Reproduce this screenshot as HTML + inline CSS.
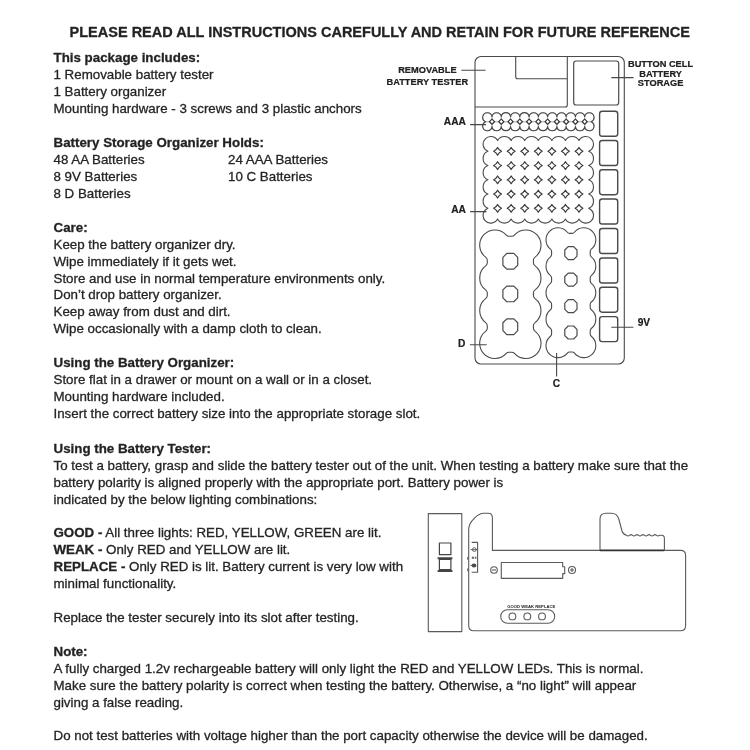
<!DOCTYPE html>
<html><head><meta charset="utf-8"><title>Battery Organizer Instructions</title>
<style>
html,body{margin:0;padding:0;background:#fff;}
body{width:750px;height:750px;position:relative;overflow:hidden;font-family:"Liberation Sans",Arial,sans-serif;color:#222;-webkit-text-stroke:0.3px #2a2a2a;}
.t{position:absolute;white-space:nowrap;font-size:13.33px;line-height:16px;height:16px;}
.b{font-weight:bold;}
.h{position:absolute;white-space:nowrap;font-weight:bold;font-size:14.5px;line-height:18px;left:69.6px;top:22.5px;}
svg{position:absolute;left:0;top:0;}
svg text{font-family:"Liberation Sans",Arial,sans-serif;font-weight:bold;fill:#222;}
.w{position:absolute;left:0;top:0;width:750px;height:750px;filter:blur(0.45px);}
</style></head><body><div class="w">
<div class="h">PLEASE READ ALL INSTRUCTIONS CAREFULLY AND RETAIN FOR FUTURE REFERENCE</div>

<div class="t b" style="left:53.5px;top:50.04px">This package includes:</div>
<div class="t" style="left:53.5px;top:67.00px">1 Removable battery tester</div>
<div class="t" style="left:53.5px;top:83.96px">1 Battery organizer</div>
<div class="t" style="left:53.5px;top:100.92px">Mounting hardware - 3 screws and 3 plastic anchors</div>
<div class="t b" style="left:53.5px;top:134.84px">Battery Storage Organizer Holds:</div>
<div class="t" style="left:53.5px;top:151.80px">48 AA Batteries</div>
<div class="t" style="left:228px;top:151.80px">24 AAA Batteries</div>
<div class="t" style="left:53.5px;top:168.76px">8 9V Batteries</div>
<div class="t" style="left:228px;top:168.76px">10 C Batteries</div>
<div class="t" style="left:53.5px;top:185.72px">8 D Batteries</div>
<div class="t b" style="left:53.5px;top:219.64px">Care:</div>
<div class="t" style="left:53.5px;top:236.60px">Keep the battery organizer dry.</div>
<div class="t" style="left:53.5px;top:253.56px">Wipe immediately if it gets wet.</div>
<div class="t" style="left:53.5px;top:270.52px">Store and use in normal temperature environments only.</div>
<div class="t" style="left:53.5px;top:287.48px">Don’t drop battery organizer.</div>
<div class="t" style="left:53.5px;top:304.44px">Keep away from dust and dirt.</div>
<div class="t" style="left:53.5px;top:321.40px">Wipe occasionally with a damp cloth to clean.</div>
<div class="t b" style="left:53.5px;top:355.32px">Using the Battery Organizer:</div>
<div class="t" style="left:53.5px;top:372.28px">Store flat in a drawer or mount on a wall or in a closet.</div>
<div class="t" style="left:53.5px;top:389.24px">Mounting hardware included.</div>
<div class="t" style="left:53.5px;top:406.20px">Insert the correct battery size into the appropriate storage slot.</div>
<div class="t b" style="left:53.5px;top:440.92px">Using the Battery Tester:</div>
<div class="t" style="left:53.5px;top:457.88px">To test a battery, grasp and slide the battery tester out of the unit. When testing a battery make sure that the</div>
<div class="t" style="left:53.5px;top:474.84px">battery polarity is aligned properly with the appropriate port. Battery power is</div>
<div class="t" style="left:53.5px;top:491.80px">indicated by the below lighting combinations:</div>
<div class="t" style="left:53.5px;top:524.92px"><b>GOOD -</b> All three lights: RED, YELLOW, GREEN are lit.</div>
<div class="t" style="left:53.5px;top:541.88px"><b>WEAK -</b> Only RED and YELLOW are lit.</div>
<div class="t" style="left:53.5px;top:558.84px"><b>REPLACE -</b> Only RED is lit. Battery current is very low with</div>
<div class="t" style="left:53.5px;top:575.80px">minimal functionality.</div>
<div class="t" style="left:53.5px;top:609.72px">Replace the tester securely into its slot after testing.</div>
<div class="t b" style="left:53.5px;top:643.64px">Note:</div>
<div class="t" style="left:53.5px;top:660.60px">A fully charged 1.2v rechargeable battery will only light the RED and YELLOW LEDs. This is normal.</div>
<div class="t" style="left:53.5px;top:677.56px">Make sure the battery polarity is correct when testing the battery. Otherwise, a “no light” will appear</div>
<div class="t" style="left:53.5px;top:694.52px">giving a false reading.</div>
<div class="t" style="left:53.5px;top:728.44px">Do not test batteries with voltage higher than the port capacity otherwise the device will be damaged.</div>
<svg width="750" height="750" viewBox="0 0 750 750" fill="none" stroke="#4a4a4a" stroke-width="1.1" stroke-linejoin="round" stroke-linecap="butt">
<rect x="475" y="56.5" width="149.3" height="307.5" rx="6" ry="6"/>
<path d="M475 107 H565.3 Q567.3 107 567.3 105 V56.5"/>
<path d="M515.7 56.5 V76.7 Q515.7 78.7 517.7 78.7 H567.3"/>
<rect x="573.7" y="61" width="45" height="44" rx="2.5" stroke-width="1.2"/>
<rect x="599.6" y="111.3" width="18.1" height="25" rx="2.6" stroke-width="1.4"/>
<rect x="599.6" y="140.5" width="18.1" height="25" rx="2.6" stroke-width="1.4"/>
<rect x="599.6" y="169.7" width="18.1" height="25" rx="2.6" stroke-width="1.4"/>
<rect x="599.6" y="199" width="18.1" height="25" rx="2.6" stroke-width="1.4"/>
<rect x="599.6" y="228.5" width="18.1" height="25" rx="2.6" stroke-width="1.4"/>
<rect x="599.6" y="258" width="18.1" height="25" rx="2.6" stroke-width="1.4"/>
<rect x="599.6" y="287.2" width="18.1" height="25" rx="2.6" stroke-width="1.4"/>
<rect x="599.6" y="316.6" width="18.1" height="25" rx="2.6" stroke-width="1.4"/>
<circle cx="487.37" cy="117.37" r="4.67" stroke="#b4b4b4" stroke-width="0.8"/>
<circle cx="487.37" cy="126.03" r="4.67" stroke="#b4b4b4" stroke-width="0.8"/>
<circle cx="496.64" cy="117.37" r="4.67" stroke="#b4b4b4" stroke-width="0.8"/>
<circle cx="496.64" cy="126.03" r="4.67" stroke="#b4b4b4" stroke-width="0.8"/>
<circle cx="505.91" cy="117.37" r="4.67" stroke="#b4b4b4" stroke-width="0.8"/>
<circle cx="505.91" cy="126.03" r="4.67" stroke="#b4b4b4" stroke-width="0.8"/>
<circle cx="515.18" cy="117.37" r="4.67" stroke="#b4b4b4" stroke-width="0.8"/>
<circle cx="515.18" cy="126.03" r="4.67" stroke="#b4b4b4" stroke-width="0.8"/>
<circle cx="524.45" cy="117.37" r="4.67" stroke="#b4b4b4" stroke-width="0.8"/>
<circle cx="524.45" cy="126.03" r="4.67" stroke="#b4b4b4" stroke-width="0.8"/>
<circle cx="533.72" cy="117.37" r="4.67" stroke="#b4b4b4" stroke-width="0.8"/>
<circle cx="533.72" cy="126.03" r="4.67" stroke="#b4b4b4" stroke-width="0.8"/>
<circle cx="542.99" cy="117.37" r="4.67" stroke="#b4b4b4" stroke-width="0.8"/>
<circle cx="542.99" cy="126.03" r="4.67" stroke="#b4b4b4" stroke-width="0.8"/>
<circle cx="552.26" cy="117.37" r="4.67" stroke="#b4b4b4" stroke-width="0.8"/>
<circle cx="552.26" cy="126.03" r="4.67" stroke="#b4b4b4" stroke-width="0.8"/>
<circle cx="561.53" cy="117.37" r="4.67" stroke="#b4b4b4" stroke-width="0.8"/>
<circle cx="561.53" cy="126.03" r="4.67" stroke="#b4b4b4" stroke-width="0.8"/>
<circle cx="570.80" cy="117.37" r="4.67" stroke="#b4b4b4" stroke-width="0.8"/>
<circle cx="570.80" cy="126.03" r="4.67" stroke="#b4b4b4" stroke-width="0.8"/>
<circle cx="580.07" cy="117.37" r="4.67" stroke="#b4b4b4" stroke-width="0.8"/>
<circle cx="580.07" cy="126.03" r="4.67" stroke="#b4b4b4" stroke-width="0.8"/>
<circle cx="589.34" cy="117.37" r="4.67" stroke="#b4b4b4" stroke-width="0.8"/>
<circle cx="589.34" cy="126.03" r="4.67" stroke="#b4b4b4" stroke-width="0.8"/>
<path d="M485.62 121.70 A4.67 4.67 0 1 1 492.00 116.80 A4.67 4.67 0 0 1 501.27 116.80 A4.67 4.67 0 0 1 510.55 116.80 A4.67 4.67 0 0 1 519.81 116.80 A4.67 4.67 0 0 1 529.09 116.80 A4.67 4.67 0 0 1 538.36 116.80 A4.67 4.67 0 0 1 547.62 116.80 A4.67 4.67 0 0 1 556.89 116.80 A4.67 4.67 0 0 1 566.16 116.80 A4.67 4.67 0 0 1 575.43 116.80 A4.67 4.67 0 0 1 584.70 116.80 A4.67 4.67 0 1 1 591.09 121.70 A4.67 4.67 0 1 1 584.71 126.60 A4.67 4.67 0 0 1 575.43 126.60 A4.67 4.67 0 0 1 566.16 126.60 A4.67 4.67 0 0 1 556.89 126.60 A4.67 4.67 0 0 1 547.62 126.60 A4.67 4.67 0 0 1 538.36 126.60 A4.67 4.67 0 0 1 529.09 126.60 A4.67 4.67 0 0 1 519.82 126.60 A4.67 4.67 0 0 1 510.54 126.60 A4.67 4.67 0 0 1 501.28 126.60 A4.67 4.67 0 0 1 492.00 126.60 A4.67 4.67 0 1 1 485.62 121.70 Z"/><path d="M492.00 119.00A22.49 22.49 0 0 0 494.61 121.70A22.49 22.49 0 0 0 492.00 124.40A22.49 22.49 0 0 0 489.40 121.70A22.49 22.49 0 0 0 492.00 119.00Z M501.27 119.00A22.49 22.49 0 0 0 503.88 121.70A22.49 22.49 0 0 0 501.27 124.40A22.49 22.49 0 0 0 498.67 121.70A22.49 22.49 0 0 0 501.27 119.00Z M510.55 119.00A22.49 22.49 0 0 0 513.14 121.70A22.49 22.49 0 0 0 510.55 124.40A22.49 22.49 0 0 0 507.94 121.70A22.49 22.49 0 0 0 510.55 119.00Z M519.81 119.00A22.49 22.49 0 0 0 522.41 121.70A22.49 22.49 0 0 0 519.81 124.40A22.49 22.49 0 0 0 517.21 121.70A22.49 22.49 0 0 0 519.81 119.00Z M529.09 119.00A22.49 22.49 0 0 0 531.69 121.70A22.49 22.49 0 0 0 529.09 124.40A22.49 22.49 0 0 0 526.49 121.70A22.49 22.49 0 0 0 529.09 119.00Z M538.36 119.00A22.49 22.49 0 0 0 540.96 121.70A22.49 22.49 0 0 0 538.36 124.40A22.49 22.49 0 0 0 535.75 121.70A22.49 22.49 0 0 0 538.36 119.00Z M547.62 119.00A22.49 22.49 0 0 0 550.23 121.70A22.49 22.49 0 0 0 547.62 124.40A22.49 22.49 0 0 0 545.02 121.70A22.49 22.49 0 0 0 547.62 119.00Z M556.89 119.00A22.49 22.49 0 0 0 559.50 121.70A22.49 22.49 0 0 0 556.89 124.40A22.49 22.49 0 0 0 554.29 121.70A22.49 22.49 0 0 0 556.89 119.00Z M566.16 119.00A22.49 22.49 0 0 0 568.76 121.70A22.49 22.49 0 0 0 566.16 124.40A22.49 22.49 0 0 0 563.56 121.70A22.49 22.49 0 0 0 566.16 119.00Z M575.43 119.00A22.49 22.49 0 0 0 578.03 121.70A22.49 22.49 0 0 0 575.43 124.40A22.49 22.49 0 0 0 572.83 121.70A22.49 22.49 0 0 0 575.43 119.00Z M584.70 119.00A22.49 22.49 0 0 0 587.30 121.70A22.49 22.49 0 0 0 584.70 124.40A22.49 22.49 0 0 0 582.10 121.70A22.49 22.49 0 0 0 584.70 119.00Z" stroke-width="1.15" stroke="#3a3a3a"/>
<path d="M487.88 151.32 A7.7 7.7 0 1 1 497.59 140.56 A7.7 7.7 0 0 1 511.16 140.56 A7.7 7.7 0 0 1 524.73 140.56 A7.7 7.7 0 0 1 538.29 140.56 A7.7 7.7 0 0 1 551.87 140.56 A7.7 7.7 0 0 1 565.43 140.56 A7.7 7.7 0 0 1 579.00 140.56 A7.7 7.7 0 1 1 588.71 151.32 A7.7 7.7 0 0 1 588.71 165.57 A7.7 7.7 0 0 1 588.71 179.82 A7.7 7.7 0 0 1 588.71 194.07 A7.7 7.7 0 0 1 588.71 208.32 A7.7 7.7 0 1 1 579.00 219.09 A7.7 7.7 0 0 1 565.44 219.09 A7.7 7.7 0 0 1 551.87 219.09 A7.7 7.7 0 0 1 538.30 219.09 A7.7 7.7 0 0 1 524.73 219.09 A7.7 7.7 0 0 1 511.16 219.09 A7.7 7.7 0 0 1 497.58 219.09 A7.7 7.7 0 1 1 487.88 208.32 A7.7 7.7 0 0 1 487.88 194.07 A7.7 7.7 0 0 1 487.88 179.82 A7.7 7.7 0 0 1 487.88 165.57 A7.7 7.7 0 0 1 487.88 151.32 Z"/><path d="M497.59 147.42A8.82 8.82 0 0 0 501.49 151.32A8.82 8.82 0 0 0 497.59 155.22A8.82 8.82 0 0 0 493.69 151.32A8.82 8.82 0 0 0 497.59 147.42Z M497.59 161.67A8.82 8.82 0 0 0 501.49 165.57A8.82 8.82 0 0 0 497.59 169.47A8.82 8.82 0 0 0 493.69 165.57A8.82 8.82 0 0 0 497.59 161.67Z M497.59 175.92A8.82 8.82 0 0 0 501.49 179.82A8.82 8.82 0 0 0 497.59 183.72A8.82 8.82 0 0 0 493.69 179.82A8.82 8.82 0 0 0 497.59 175.92Z M497.59 190.17A8.82 8.82 0 0 0 501.49 194.07A8.82 8.82 0 0 0 497.59 197.97A8.82 8.82 0 0 0 493.69 194.07A8.82 8.82 0 0 0 497.59 190.17Z M497.59 204.42A8.82 8.82 0 0 0 501.49 208.32A8.82 8.82 0 0 0 497.59 212.22A8.82 8.82 0 0 0 493.69 208.32A8.82 8.82 0 0 0 497.59 204.42Z M511.16 147.42A8.82 8.82 0 0 0 515.06 151.32A8.82 8.82 0 0 0 511.16 155.22A8.82 8.82 0 0 0 507.26 151.32A8.82 8.82 0 0 0 511.16 147.42Z M511.16 161.67A8.82 8.82 0 0 0 515.06 165.57A8.82 8.82 0 0 0 511.16 169.47A8.82 8.82 0 0 0 507.26 165.57A8.82 8.82 0 0 0 511.16 161.67Z M511.16 175.92A8.82 8.82 0 0 0 515.06 179.82A8.82 8.82 0 0 0 511.16 183.72A8.82 8.82 0 0 0 507.26 179.82A8.82 8.82 0 0 0 511.16 175.92Z M511.16 190.17A8.82 8.82 0 0 0 515.06 194.07A8.82 8.82 0 0 0 511.16 197.97A8.82 8.82 0 0 0 507.26 194.07A8.82 8.82 0 0 0 511.16 190.17Z M511.16 204.42A8.82 8.82 0 0 0 515.06 208.32A8.82 8.82 0 0 0 511.16 212.22A8.82 8.82 0 0 0 507.26 208.32A8.82 8.82 0 0 0 511.16 204.42Z M524.73 147.42A8.82 8.82 0 0 0 528.62 151.32A8.82 8.82 0 0 0 524.73 155.22A8.82 8.82 0 0 0 520.83 151.32A8.82 8.82 0 0 0 524.73 147.42Z M524.73 161.67A8.82 8.82 0 0 0 528.62 165.57A8.82 8.82 0 0 0 524.73 169.47A8.82 8.82 0 0 0 520.83 165.57A8.82 8.82 0 0 0 524.73 161.67Z M524.73 175.92A8.82 8.82 0 0 0 528.62 179.82A8.82 8.82 0 0 0 524.73 183.72A8.82 8.82 0 0 0 520.83 179.82A8.82 8.82 0 0 0 524.73 175.92Z M524.73 190.17A8.82 8.82 0 0 0 528.62 194.07A8.82 8.82 0 0 0 524.73 197.97A8.82 8.82 0 0 0 520.83 194.07A8.82 8.82 0 0 0 524.73 190.17Z M524.73 204.42A8.82 8.82 0 0 0 528.62 208.32A8.82 8.82 0 0 0 524.73 212.22A8.82 8.82 0 0 0 520.83 208.32A8.82 8.82 0 0 0 524.73 204.42Z M538.29 147.42A8.82 8.82 0 0 0 542.19 151.32A8.82 8.82 0 0 0 538.29 155.22A8.82 8.82 0 0 0 534.39 151.32A8.82 8.82 0 0 0 538.29 147.42Z M538.29 161.67A8.82 8.82 0 0 0 542.19 165.57A8.82 8.82 0 0 0 538.29 169.47A8.82 8.82 0 0 0 534.39 165.57A8.82 8.82 0 0 0 538.29 161.67Z M538.29 175.92A8.82 8.82 0 0 0 542.19 179.82A8.82 8.82 0 0 0 538.29 183.72A8.82 8.82 0 0 0 534.39 179.82A8.82 8.82 0 0 0 538.29 175.92Z M538.29 190.17A8.82 8.82 0 0 0 542.19 194.07A8.82 8.82 0 0 0 538.29 197.97A8.82 8.82 0 0 0 534.39 194.07A8.82 8.82 0 0 0 538.29 190.17Z M538.29 204.42A8.82 8.82 0 0 0 542.19 208.32A8.82 8.82 0 0 0 538.29 212.22A8.82 8.82 0 0 0 534.39 208.32A8.82 8.82 0 0 0 538.29 204.42Z M551.87 147.42A8.82 8.82 0 0 0 555.76 151.32A8.82 8.82 0 0 0 551.87 155.22A8.82 8.82 0 0 0 547.97 151.32A8.82 8.82 0 0 0 551.87 147.42Z M551.87 161.67A8.82 8.82 0 0 0 555.76 165.57A8.82 8.82 0 0 0 551.87 169.47A8.82 8.82 0 0 0 547.97 165.57A8.82 8.82 0 0 0 551.87 161.67Z M551.87 175.92A8.82 8.82 0 0 0 555.76 179.82A8.82 8.82 0 0 0 551.87 183.72A8.82 8.82 0 0 0 547.97 179.82A8.82 8.82 0 0 0 551.87 175.92Z M551.87 190.17A8.82 8.82 0 0 0 555.76 194.07A8.82 8.82 0 0 0 551.87 197.97A8.82 8.82 0 0 0 547.97 194.07A8.82 8.82 0 0 0 551.87 190.17Z M551.87 204.42A8.82 8.82 0 0 0 555.76 208.32A8.82 8.82 0 0 0 551.87 212.22A8.82 8.82 0 0 0 547.97 208.32A8.82 8.82 0 0 0 551.87 204.42Z M565.43 147.42A8.82 8.82 0 0 0 569.33 151.32A8.82 8.82 0 0 0 565.43 155.22A8.82 8.82 0 0 0 561.53 151.32A8.82 8.82 0 0 0 565.43 147.42Z M565.43 161.67A8.82 8.82 0 0 0 569.33 165.57A8.82 8.82 0 0 0 565.43 169.47A8.82 8.82 0 0 0 561.53 165.57A8.82 8.82 0 0 0 565.43 161.67Z M565.43 175.92A8.82 8.82 0 0 0 569.33 179.82A8.82 8.82 0 0 0 565.43 183.72A8.82 8.82 0 0 0 561.53 179.82A8.82 8.82 0 0 0 565.43 175.92Z M565.43 190.17A8.82 8.82 0 0 0 569.33 194.07A8.82 8.82 0 0 0 565.43 197.97A8.82 8.82 0 0 0 561.53 194.07A8.82 8.82 0 0 0 565.43 190.17Z M565.43 204.42A8.82 8.82 0 0 0 569.33 208.32A8.82 8.82 0 0 0 565.43 212.22A8.82 8.82 0 0 0 561.53 208.32A8.82 8.82 0 0 0 565.43 204.42Z M579.00 147.42A8.82 8.82 0 0 0 582.90 151.32A8.82 8.82 0 0 0 579.00 155.22A8.82 8.82 0 0 0 575.11 151.32A8.82 8.82 0 0 0 579.00 147.42Z M579.00 161.67A8.82 8.82 0 0 0 582.90 165.57A8.82 8.82 0 0 0 579.00 169.47A8.82 8.82 0 0 0 575.11 165.57A8.82 8.82 0 0 0 579.00 161.67Z M579.00 175.92A8.82 8.82 0 0 0 582.90 179.82A8.82 8.82 0 0 0 579.00 183.72A8.82 8.82 0 0 0 575.11 179.82A8.82 8.82 0 0 0 579.00 175.92Z M579.00 190.17A8.82 8.82 0 0 0 582.90 194.07A8.82 8.82 0 0 0 579.00 197.97A8.82 8.82 0 0 0 575.11 194.07A8.82 8.82 0 0 0 579.00 190.17Z M579.00 204.42A8.82 8.82 0 0 0 582.90 208.32A8.82 8.82 0 0 0 579.00 212.22A8.82 8.82 0 0 0 575.11 208.32A8.82 8.82 0 0 0 579.00 204.42Z" stroke-width="1.2" stroke="#3a3a3a"/>
<path d="M508.90 236.30L511.80 236.30 A3.5 3.5 0 0 0 514.42 235.12 A15.2 15.2 0 1 1 534.82 257.43 A3.5 3.5 0 0 0 533.40 260.25 L533.40 262.85 A3.5 3.5 0 0 0 534.82 265.67 A15.2 15.2 0 0 1 534.82 290.13 A3.5 3.5 0 0 0 533.40 292.95 L533.40 295.55 A3.5 3.5 0 0 0 534.82 298.37 A15.2 15.2 0 0 1 534.82 322.83 A3.5 3.5 0 0 0 533.40 325.65 L533.40 328.25 A3.5 3.5 0 0 0 534.82 331.07 A15.2 15.2 0 1 1 514.42 353.38 A3.5 3.5 0 0 0 511.80 352.20 L508.90 352.20 A3.5 3.5 0 0 0 506.28 353.38 A15.2 15.2 0 1 1 485.88 331.07 A3.5 3.5 0 0 0 487.30 328.25 L487.30 325.65 A3.5 3.5 0 0 0 485.88 322.83 A15.2 15.2 0 0 1 485.88 298.37 A3.5 3.5 0 0 0 487.30 295.55 L487.30 292.95 A3.5 3.5 0 0 0 485.88 290.13 A15.2 15.2 0 0 1 485.88 265.67 A3.5 3.5 0 0 0 487.30 262.85 L487.30 260.25 A3.5 3.5 0 0 0 485.88 257.43 A15.2 15.2 0 1 1 506.28 235.12 A3.5 3.5 0 0 0 508.90 236.30Z"/>
<path d="M506.80 253.45L513.80 253.45L517.70 257.35L517.70 265.25L513.80 269.15L506.80 269.15L502.90 265.25L502.90 257.35Z" stroke-width="1.2"/>
<path d="M506.80 286.05L513.80 286.05L517.70 289.95L517.70 297.85L513.80 301.75L506.80 301.75L502.90 297.85L502.90 289.95Z" stroke-width="1.2"/>
<path d="M506.80 318.85L513.80 318.85L517.70 322.75L517.70 330.65L513.80 334.55L506.80 334.55L502.90 330.65L502.90 322.75Z" stroke-width="1.2"/>
<path d="M569.69 233.40L572.11 233.40 A3 3 0 0 0 574.45 232.28 A12.0 12.0 0 1 1 591.32 249.15 A3 3 0 0 0 590.20 251.49 L590.20 254.56 A3 3 0 0 0 591.32 256.90 A12.0 12.0 0 0 1 591.32 275.60 A3 3 0 0 0 590.20 277.94 L590.20 281.01 A3 3 0 0 0 591.32 283.35 A12.0 12.0 0 0 1 591.32 302.05 A3 3 0 0 0 590.20 304.39 L590.20 307.46 A3 3 0 0 0 591.32 309.80 A12.0 12.0 0 0 1 591.32 328.50 A3 3 0 0 0 590.20 330.84 L590.20 333.91 A3 3 0 0 0 591.32 336.25 A12.0 12.0 0 1 1 574.45 353.12 A3 3 0 0 0 572.11 352.00 L569.69 352.00 A3 3 0 0 0 567.35 353.12 A12.0 12.0 0 1 1 550.48 336.25 A3 3 0 0 0 551.60 333.91 L551.60 330.84 A3 3 0 0 0 550.48 328.50 A12.0 12.0 0 0 1 550.48 309.80 A3 3 0 0 0 551.60 307.46 L551.60 304.39 A3 3 0 0 0 550.48 302.05 A12.0 12.0 0 0 1 550.48 283.35 A3 3 0 0 0 551.60 281.01 L551.60 277.94 A3 3 0 0 0 550.48 275.60 A12.0 12.0 0 0 1 550.48 256.90 A3 3 0 0 0 551.60 254.56 L551.60 251.49 A3 3 0 0 0 550.48 249.15 A12.0 12.0 0 1 1 567.35 232.28 A3 3 0 0 0 569.69 233.40Z"/>
<path d="M568.20 246.60L573.60 246.60L577.00 250.00L577.00 256.20L573.60 259.60L568.20 259.60L564.80 256.20L564.80 250.00Z" stroke-width="1.2"/>
<path d="M568.20 273.10L573.60 273.10L577.00 276.50L577.00 282.70L573.60 286.10L568.20 286.10L564.80 282.70L564.80 276.50Z" stroke-width="1.2"/>
<path d="M568.20 299.70L573.60 299.70L577.00 303.10L577.00 309.30L573.60 312.70L568.20 312.70L564.80 309.30L564.80 303.10Z" stroke-width="1.2"/>
<path d="M568.20 326.00L573.60 326.00L577.00 329.40L577.00 335.60L573.60 339.00L568.20 339.00L564.80 335.60L564.80 329.40Z" stroke-width="1.2"/>
<path d="M461.3 70.2H485.6 M611.3 77.6H633.6 M470.1 124.6H486 M470.1 211.6H486.5 M469.9 344.8H486.7 M611.3 327.2H633.4 M556.6 353.1V376.4" stroke-width="1.1" stroke="#484848"/>
<text x="427.4" y="73.4" font-size="9.25" text-anchor="middle" stroke="#111" stroke-width="0.2">REMOVABLE</text>
<text x="427.3" y="85.4" font-size="9.25" text-anchor="middle" stroke="#111" stroke-width="0.2">BATTERY TESTER</text>
<text x="660.5" y="67.1" font-size="9.25" text-anchor="middle" stroke="#111" stroke-width="0.2">BUTTON CELL</text>
<text x="660.6" y="76.5" font-size="9.25" text-anchor="middle" stroke="#111" stroke-width="0.2">BATTERY</text>
<text x="660.6" y="86.0" font-size="9.25" text-anchor="middle" stroke="#111" stroke-width="0.2">STORAGE</text>
<text x="454.9" y="125.2" font-size="10.2" text-anchor="middle" stroke="#111" stroke-width="0.2">AAA</text>
<text x="458.5" y="213.2" font-size="10.2" text-anchor="middle" stroke="#111" stroke-width="0.2">AA</text>
<text x="461.6" y="346.8" font-size="10.2" text-anchor="middle" stroke="#111" stroke-width="0.2">D</text>
<text x="556.4" y="386.8" font-size="10.2" text-anchor="middle" stroke="#111" stroke-width="0.2">C</text>
<text x="643.9" y="325.8" font-size="10.2" text-anchor="middle" stroke="#111" stroke-width="0.2">9V</text>
<g stroke="#5a5a5a">
<rect x="428.3" y="513.6" width="33.5" height="118"/>
<rect x="439.4" y="543" width="11.5" height="11.7" stroke="#444" stroke-width="1.2"/>
<rect x="439.4" y="559.3" width="11.5" height="10.4" stroke="#444" stroke-width="1.2"/>
<path d="M437.6 558.3H452.4 M437.6 570.9H452.4" stroke-width="2" stroke="#444"/>
<path d="M468.7 626 V529.7 C468.7 520.5 479.2 513.3 483.5 513.3 H488.3 Q492.4 513.3 492.4 518.2 V550.4 H600 M664.4 550.4 H680.6 Q685.6 550.4 685.6 555.4 V625.8 Q685.6 630.8 680.6 630.8 H473.7 Q468.7 630.8 468.7 625.8"/>
<path d="M600 550.4 V519 Q600 513.3 606 513.3 H611.5 Q617 513.3 618.8 519 L622 531 Q623.2 534.6 626.5 535.3 q1.5 1.3 3 0 q1.5 -1.3 3 0 q1.5 1.3 3 0 q1.5 -1.3 3 0 q1.5 1.3 3 0 q1.5 -1.3 3 0 q1.5 1.3 3 0 q1.5 -1.3 3 0 q1.5 1.3 3 0 q1.5 -1.3 3 0 q1.5 1.3 3 0 H660.5 Q664.4 534.6 664.4 538.5 V550.4"/>
<path d="M600 550.4H664.4" stroke-width="1.6" stroke="#333"/>
<path d="M471.7 542.4H477.6V572.3H471.7"/>
<circle cx="474.3" cy="549.6" r="1.9" stroke-width="0.9" stroke="#555"/><path d="M470.6 549.6H477.4" stroke-width="0.9" stroke="#555"/>
<path d="M471.8 557.8H474 M474.8 557.8H476.4" stroke-width="2" stroke="#666"/>
<ellipse cx="474" cy="565.4" rx="2.4" ry="2" fill="#4a4a4a" stroke="none"/><path d="M470.5 565.4H473" stroke-width="1" stroke="#555"/>
<path d="M468.7 557.4h-1.2v2h1.2 M468.7 568.8h-1.2v2h1.2" stroke-width="0.8"/>
<circle cx="494" cy="570" r="3.3"/><path d="M492 570H496"/>
<circle cx="572" cy="570" r="3.5"/><path d="M570 570H574M572 568V572"/>
<path d="M501.3 562.5H562.7V566.8H564.7V573.6H562.7V578.4H501.3Z"/>
<rect x="500.7" y="609.7" width="54" height="13.6" rx="6.8"/>
<circle cx="512.4" cy="616.4" r="3.4"/>
<circle cx="527.3" cy="616.4" r="3.4"/>
<circle cx="542" cy="616.4" r="3.4"/>
</g>
<text x="531.3" y="607.7" font-size="4" text-anchor="middle" stroke="none" fill="#333" textLength="48" lengthAdjust="spacingAndGlyphs">GOOD WEAK REPLACE</text>
</svg>
</div></body></html>
